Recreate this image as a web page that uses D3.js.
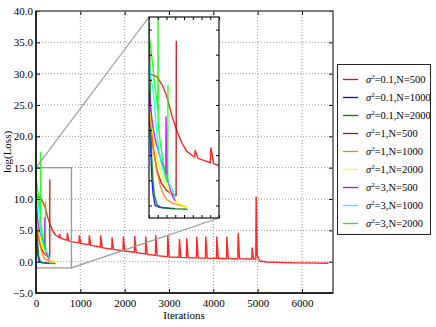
<!DOCTYPE html>
<html>
<head>
<meta charset="utf-8">
<script src="https://cdn.jsdelivr.net/npm/d3@7"></script>
<style>
  body { margin: 0; background: #fff; }
  text { font-family: "Liberation Serif", "DejaVu Serif", serif; }
</style>
</head>
<body>
<div id="chart"></div>
<script>
// loss curves, [iteration, log(loss)]
const s01n500 = [[0,10.5],[35,10.4],[90,10.25],[150,9.6],[206,8.65],[263,7.1],[320,5.9],[377,4.95],[434,4.3],[511,3.9],
  [522,3.85],[527,4.4],[560,3.75],[700,3.4],[707,4.6],[740,3.3],[800,3.2],
  [970,3.0],[978,4.2],[1010,2.9],[1195,2.7],[1203,4.2],[1235,2.6],
  [1452,2.35],[1460,4.2],[1492,2.25],[1708,2.0],[1716,3.9],[1748,1.95],
  [1963,1.75],[1971,4.0],[2003,1.7],[2220,1.5],[2228,4.1],[2260,1.45],
  [2468,1.25],[2476,4.0],[2508,1.2],[2694,1.0],[2702,4.2],[2734,0.95],
  [2965,0.8],[2973,4.2],[3005,0.75],[3227,0.7],[3235,3.6],[3267,0.68],
  [3392,0.65],[3400,3.75],[3432,0.63],[3619,0.6],[3627,4.0],[3659,0.58],
  [3822,0.56],[3830,4.0],[3862,0.55],[4071,0.52],[4079,4.0],[4111,0.5],
  [4297,0.5],[4305,4.0],[4337,0.48],[4552,0.47],[4560,4.6],[4592,0.46],
  [4868,0.43],[4876,2.25],[4908,0.43],[4958,0.42],[4966,10.4],[4990,1.0],
  [5050,0.1],[5200,-0.05],[5600,-0.15],[6000,-0.2],[6600,-0.25]];
const s01n1000 = [[0,8.5],[15,5.5],[30,2.5],[45,1.0],[70,0.0],[120,-0.15],[200,-0.2],[300,-0.25]];
const s01n2000 = [[0,14.5],[10,11],[20,7],[30,4],[45,2],[60,0.9],[90,0.1],[130,-0.15],[250,-0.25],[440,-0.3]];
const s1n500 = [[0,9.0],[20,7],[50,4.5],[90,2.8],[140,1.8],[200,1.2],[260,0.9],[310,0.8],[312,13.1]];
const s1n1000 = [[0,7.8],[20,6.5],[50,4.5],[90,2.8],[130,1.5],[170,0.8],[206,0.45],[280,0.15],[358,0.0],[430,-0.1]];
const s1n2000 = [[0,8.0],[30,6.5],[70,4.5],[120,3.0],[170,2.0],[220,1.3],[263,0.8],[320,0.3],[396,-0.05],[440,-0.15]];
const s3n500 = [[0,9.3],[15,8.0],[40,6.5],[80,5.0],[130,3.8],[180,2.8],[192,2.5],[194,7.1],[200,5.0],[206,2.3],[240,1.3],[280,0.6],[300,0.35]];
const s3n1000 = [[0,11.5],[20,10.2],[50,9.0],[80,6.5],[110,4.5],[150,3.0],[200,2.0],[240,1.6],[263,1.4],[285,0.9],[305,0.6]];
const s3n2000 = [[0,13.6],[30,12],[60,10],[95,8],[101,7.5],[103,17.5],[105,6.5],[130,5],[160,3.5],[190,2.4],[214,1.8],[217,9.6]];

const sigmas = ["0.1","0.1","0.1","1","1","1","3","3","3"];
const sizes = ["500","1000","2000","500","1000","2000","500","1000","2000"];
const colors = ["#ff0000","#0000ff","#008000","#bf0000","#ff8000","#ffff00","#bf00ff","#00ffff","#00ff00"];
const series = [s01n500, s01n1000, s01n2000, s1n500, s1n1000, s1n2000, s3n500, s3n1000, s3n2000];

const xTicks = [0,1000,2000,3000,4000,5000,6000];
const yTicks = [-5,0,5,10,15,20,25,30,35,40];
const zoomBox = {x0: 0, x1: 800, y0: -1, y1: 15};

const width = 436, height = 327;
const svg = d3.select("#chart").append("svg")
    .attr("width", width)
    .attr("height", height);

const x = d3.scaleLinear().domain([0, 6700]).range([36, 333]);
const y = d3.scaleLinear().domain([-5, 40]).range([293, 11]);

const defs = svg.append("defs");
defs.append("clipPath").attr("id", "mainClip").append("rect")
    .attr("x", 36).attr("y", 11).attr("width", 297).attr("height", 282);

// grid
svg.append("g").selectAll("line").data(xTicks.slice(1)).join("line")
    .attr("x1", d => x(d)).attr("x2", d => x(d))
    .attr("y1", y(40)).attr("y2", y(-5))
    .attr("stroke", "#999").attr("stroke-dasharray", "1,2");
svg.append("g").selectAll("line").data(yTicks.slice(1, -1)).join("line")
    .attr("y1", d => y(d)).attr("y2", d => y(d))
    .attr("x1", 36).attr("x2", 333)
    .attr("stroke", "#999").attr("stroke-dasharray", "1,2");

const line = d3.line().x(d => x(d[0])).y(d => y(d[1]));
svg.append("g").attr("clip-path", "url(#mainClip)")
  .selectAll("path").data(series).join("path")
    .attr("d", line)
    .attr("fill", "none")
    .attr("stroke", (d, i) => colors[i])
    .attr("stroke-opacity", 0.85)
    .attr("stroke-width", 1.4);

// zoom rectangle and connectors
svg.append("rect")
    .attr("x", x(zoomBox.x0)).attr("y", y(zoomBox.y1))
    .attr("width", x(zoomBox.x1) - x(zoomBox.x0))
    .attr("height", y(zoomBox.y0) - y(zoomBox.y1))
    .attr("fill", "none").attr("stroke", "#999").attr("stroke-width", 1.3);

// inset
const ix = d3.scaleLinear().domain([zoomBox.x0, zoomBox.x1]).range([149, 219]);
const iy = d3.scaleLinear().domain([zoomBox.y0, zoomBox.y1]).range([218, 17]);

svg.append("line")
    .attr("x1", x(zoomBox.x0)).attr("y1", y(zoomBox.y1))
    .attr("x2", ix(zoomBox.x0)).attr("y2", iy(zoomBox.y1))
    .attr("stroke", "#999").attr("stroke-width", 1.2);
svg.append("line")
    .attr("x1", x(zoomBox.x1)).attr("y1", y(zoomBox.y0))
    .attr("x2", ix(zoomBox.x1)).attr("y2", iy(zoomBox.y0))
    .attr("stroke", "#999").attr("stroke-width", 1.2);

defs.append("clipPath").attr("id", "insetClip").append("rect")
    .attr("x", 149).attr("y", 17).attr("width", 70).attr("height", 201);
svg.append("rect")
    .attr("x", 149).attr("y", 17).attr("width", 70).attr("height", 201)
    .attr("fill", "#fff");

const iline = d3.line().x(d => ix(d[0])).y(d => iy(d[1]));
svg.append("g").attr("clip-path", "url(#insetClip)")
  .selectAll("path").data(series).join("path")
    .attr("d", iline)
    .attr("fill", "none")
    .attr("stroke", (d, i) => colors[i])
    .attr("stroke-opacity", 0.85)
    .attr("stroke-width", 1.4);

svg.append("g").attr("transform", "translate(0,17)")
    .call(d3.axisTop(ix).ticks(8).tickSize(-3).tickFormat(""));
svg.append("g").attr("transform", "translate(0,218)")
    .call(d3.axisBottom(ix).ticks(8).tickSize(-3).tickFormat(""));
svg.append("g").attr("transform", "translate(149,0)")
    .call(d3.axisLeft(iy).ticks(8).tickSize(-3).tickFormat(""));
svg.append("g").attr("transform", "translate(219,0)")
    .call(d3.axisRight(iy).ticks(8).tickSize(-3).tickFormat(""));
svg.selectAll(".domain").remove();
svg.append("rect")
    .attr("x", 149).attr("y", 17).attr("width", 70).attr("height", 201)
    .attr("fill", "none").attr("stroke", "#111").attr("stroke-width", 1.2);

// main axes
svg.append("g").attr("class", "ax").attr("transform", "translate(0,293)")
    .call(d3.axisBottom(x).tickValues(xTicks).tickSize(-4).tickPadding(6).tickFormat(d3.format("d")));
svg.append("g").attr("class", "ax").attr("transform", "translate(36,0)")
    .call(d3.axisLeft(y).tickValues(yTicks).tickSize(-4).tickPadding(3).tickFormat(d3.format(".1f")));
svg.append("g").attr("transform", "translate(0,11)")
    .call(d3.axisTop(x).tickValues(xTicks).tickSize(-4).tickFormat(""));
svg.append("g").attr("transform", "translate(333,0)")
    .call(d3.axisRight(y).tickValues(yTicks).tickSize(-4).tickFormat(""));
svg.selectAll(".domain").remove();
svg.selectAll(".ax text").attr("font-family", "Liberation Serif, serif").attr("font-size", 11).attr("fill", "#000");

svg.append("rect")
    .attr("x", 36).attr("y", 11).attr("width", 297).attr("height", 282)
    .attr("fill", "none").attr("stroke", "#555").attr("stroke-width", 1.5);
svg.append("path")
    .attr("d", "M36,11V293H333")
    .attr("fill", "none").attr("stroke", "#111").attr("stroke-width", 1.5);

svg.append("text")
    .attr("x", 184).attr("y", 319)
    .attr("text-anchor", "middle").attr("font-size", 11)
    .text("Iterations");
svg.append("text")
    .attr("transform", "translate(11,152) rotate(-90)")
    .attr("text-anchor", "middle").attr("font-size", 11)
    .text("log(Loss)");

// legend
const legend = svg.append("g");
legend.append("rect")
    .attr("x", 337.5).attr("y", 64.5).attr("width", 93).attr("height", 170)
    .attr("fill", "#fff").attr("stroke", "#222").attr("stroke-width", 1);
const items = legend.selectAll("g.item").data(series).join("g")
    .attr("class", "item")
    .attr("transform", (d, i) => `translate(0,${79.5 + i * 18})`);
items.append("line")
    .attr("x1", 343).attr("x2", 358)
    .attr("stroke", (d, i) => colors[i]).attr("stroke-width", 1.3);
const lt = items.append("text")
    .attr("x", 366).attr("y", 3.5).attr("font-size", 10.5);
lt.append("tspan").attr("font-style", "italic").text("σ");
lt.append("tspan").attr("font-size", 7).attr("dy", -4).text("2");
lt.append("tspan").attr("dy", 4).text((d, i) => `=${sigmas[i]},N=${sizes[i]}`);
</script>
</body>
</html>
